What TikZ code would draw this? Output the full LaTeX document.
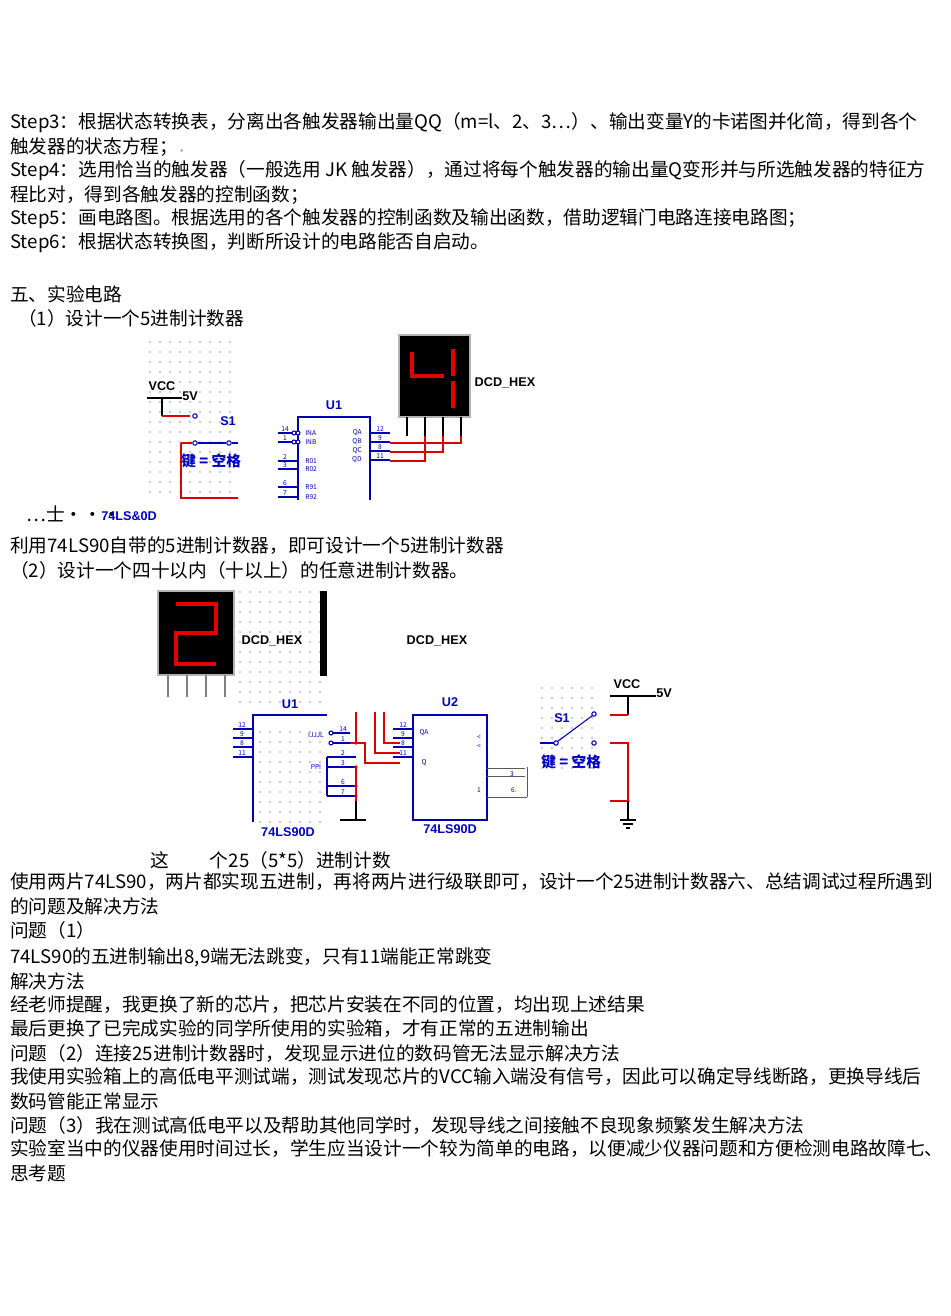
\documentclass[tikz,border=0pt]{standalone}
\usepackage{fontspec}
\setmainfont{Noto Sans CJK SC}
\newfontfamily\cjk{Noto Sans CJK SC}
\newfontfamily\arialf{Liberation Sans}
\newcommand{\mydotgrid}[4]{\foreach \gx in {#1}{\foreach \gy in {#2}{\fill[gray!80] (\gx,\gy) circle (0.8);}}}
\begin{document}
\begin{tikzpicture}[x=0.75pt,y=-0.75pt,
  txt/.style={anchor=west,inner sep=0pt,font=\fontsize{14}{16}\selectfont},
  lbl/.style={inner sep=0pt,font=\arialf\bfseries\fontsize{9.5}{11}\selectfont},
  blbl/.style={lbl,text=blue!75!black},
  pin/.style={inner sep=0pt,text=blue!70!black,font=\fontsize{5}{6}\selectfont},
  bw/.style={blue!70!black,line width=0.8pt},
  rw/.style={red!85!black,line width=0.8pt},
  kw/.style={black,line width=0.8pt},
  seg/.style={red!90!black,line width=2.4pt}]
\useasboundingbox (0,0) rectangle (950,1316);
\fill[white] (0,0) rectangle (950,1316);
% ---- text
\node[txt] (t1) at (10,123) {Step3：根据状态转换表，分离出各触发器输出量QQ（m=l、2、3…）、输出变量Y的卡诺图并化简，得到各个};
\node[txt] (t2) at (10,147) {触发器的状态方程；\textcolor{gray}{\tiny ▪}};
\node[txt] (t3) at (10,171) {Step4：选用恰当的触发器（一般选用 JK 触发器），通过将每个触发器的输出量Q变形并与所选触发器的特征方};
\node[txt] (t4) at (10,195) {程比对，得到各触发器的控制函数；};
\node[txt] (t5) at (10,219) {Step5：画电路图。根据选用的各个触发器的控制函数及输出函数，借助逻辑门电路连接电路图；};
\node[txt] (t6) at (10,243) {Step6：根据状态转换图，判断所设计的电路能否自启动。};
\node[txt] (t7) at (10,294) {五、实验电路};
\node[txt] (t8) at (18,318) {（1）设计一个5进制计数器};
\node[txt] (t9) at (26,514) {…士•••};
\node[blbl,anchor=west] (t9b) at (101,516) {74LS\&0D};
\node[txt] (t10) at (10,546) {利用74LS90自带的5进制计数器，即可设计一个5进制计数器};
\node[txt] (t11) at (10,570) {（2）设计一个四十以内（十以上）的任意进制计数器。};
\node[txt] (t12) at (150,860) {这\hspace{2.2em}个25（5*5）进制计数};
\node[txt] (t13) at (10,882) {使用两片74LS90，两片都实现五进制，再将两片进行级联即可，设计一个25进制计数器六、总结调试过程所遇到};
\node[txt] (t14) at (10,906) {的问题及解决方法};
\node[txt] (t15) at (10,930) {问题（1）};
\node[txt] (t16) at (10,957) {74LS90的五进制输出8,9端无法跳变，只有11端能正常跳变};
\node[txt] (t17) at (10,981) {解决方法};
\node[txt] (t18) at (10,1005) {经老师提醒，我更换了新的芯片，把芯片安装在不同的位置，均出现上述结果};
\node[txt] (t19) at (10,1029) {最后更换了已完成实验的同学所使用的实验箱，才有正常的五进制输出};
\node[txt] (t20) at (10,1053) {问题（2）连接25进制计数器时，发现显示进位的数码管无法显示解决方法};
\node[txt] (t21) at (10,1077) {我使用实验箱上的高低电平测试端，测试发现芯片的VCC输入端没有信号，因此可以确定导线断路，更换导线后};
\node[txt] (t22) at (10,1101) {数码管能正常显示};
\node[txt] (t23) at (10,1125) {问题（3）我在测试高低电平以及帮助其他同学时，发现导线之间接触不良现象频繁发生解决方法};
\node[txt] (t24) at (10,1149) {实验室当中的仪器使用时间过长，学生应当设计一个较为简单的电路，以便减少仪器问题和方便检测电路故障七、};
\node[txt] (t25) at (10,1173) {思考题};
% ================= circuit 1
\mydotgrid{150,160,...,230}{342,352,...,492}
\mydotgrid{280,290,...,540}{342,352,...,492}
\node[lbl] (vcc1) at (162,386) {VCC};
\node[lbl] (v51) at (190,396) {5V};
\draw[kw] (147,398) -- (182,398);
\draw[kw] (162,398) -- (162,416);
\draw[rw] (162,416) -- (190,416);
\draw[bw,fill=white] (195,416) circle (2.2);
\node[blbl] (s1a) at (228,421) {S1};
\draw[rw] (181,443) -- (181,498) -- (238,498);
\draw[rw] (181,443) -- (192,443);
\draw[bw] (198,443) -- (226,443);
\draw[bw,fill=white] (195,443) circle (2.2);
\draw[bw,fill=white] (229,443) circle (2.2);
\draw[bw] (232,443) -- (238,443);
\node[blbl,anchor=west,font=\cjk\bfseries\fontsize{11}{12}\selectfont] (key1) at (181,461) {键 = 空格};
\node[blbl] (u1a) at (334,405) {U1};
\draw[bw] (298,500) -- (298,417) -- (370,417) -- (370,500);
\foreach \y/\n/\p in {433/14/INA,442/1/INB}{\draw[bw] (278,\y) -- (292,\y); \draw[bw,fill=white] (294,\y) circle (2) (298,\y) circle (2);
  \node[pin] at (285,\y-4) {\n}; \node[pin,anchor=west] at (305,\y) {\p};}
\foreach \y/\n/\p in {461/2/R01,469/3/R02,487/6/R91,497/7/R92}{\draw[bw] (278,\y) -- (298,\y);
  \node[pin] at (285,\y-4) {\n}; \node[pin,anchor=west] at (305,\y) {\p};}
\foreach \y/\n/\p in {433/12/QA,442/9/QB,451/8/QC,460/11/QD}{\draw[bw] (370,\y) -- (390,\y);
  \node[pin] at (380,\y-4) {\n}; \node[pin,anchor=east] at (362,\y) {\p};}
\draw[fill=black,draw=gray!60,line width=1pt] (399,335) rectangle (470,417);
\draw[seg] (412,352) -- (412,376) -- (444,376);
\draw[seg] (453,349) -- (453,376) (453,381) -- (453,408);
\node[lbl] (dcd1) at (505,383) {DCD\_HEX};
\foreach \x in {407,425,443,461}{\draw[kw] (\x,417) -- (\x,436);}
\draw[rw] (390,443) -- (461,443) -- (461,436);
\draw[rw] (390,452) -- (443,452) -- (443,436);
\draw[rw] (390,461) -- (425,461) -- (425,436);
% ================= circuit 2
\mydotgrid{240,250,...,320}{592,602,...,702}
\mydotgrid{330,340,...,400}{722,732,...,832}
\mydotgrid{260,270,...,320}{732,742,...,822}
\mydotgrid{405,415,...,480}{592,602,...,832}
\mydotgrid{542,552,...,600}{688,698,...,768}
\mydotgrid{615,625,...,672}{592,602,...,832}
\draw[fill=black,draw=gray!60,line width=1pt] (158,591) rectangle (234,675);
\draw[seg] (176,604) -- (216,604) -- (216,633) -- (176,633) -- (176,664) -- (216,664);
\node[lbl] (dcd2) at (272,641) {DCD\_HEX};
\fill[black] (320,591) rectangle (327,676);
\node[lbl] (dcd3) at (437,641) {DCD\_HEX};
\fill[white] (396,630) rectangle (404,652);
\foreach \x in {168,187,206,225}{\draw[gray,line width=0.8pt] (\x,675) -- (\x,697);}
\node[blbl] (u1b) at (290,704) {U1};
\draw[bw] (253,822) -- (253,715) -- (327,715);
\foreach \y/\n in {729/12,738/9,747/8,757/11}{\draw[bw] (233,\y) -- (253,\y); \node[pin] at (242,\y-4) {\n};}
\node[blbl] (u1c) at (288,832) {74LS90D};
\fill[white] (250,836) rectangle (330,845);
\draw[bw] (333,743) -- (350,743); \draw[bw,fill=white] (331,743) circle (2);
\draw[bw] (333,733) -- (350,733); \draw[bw,fill=white] (331,733) circle (2);
\node[pin] at (343,729) {14}; \node[pin] at (343,739) {1};
\node[pin] at (316,735) {IJJJL};
\node[pin] at (316,767) {PPI};
\foreach \y/\n in {757/2,767/3,786/6,796/7}{\draw[bw] (327,\y) -- (356,\y); \node[pin] at (343,\y-4) {\n};}
\draw[bw] (327,757) -- (327,796);
\draw[rw] (356,712) -- (356,743) -- (350,743);
\draw[rw] (356,743) -- (365,743) -- (365,763) -- (400,763);
\draw[rw] (375,712) -- (375,753) -- (400,753);
\draw[rw] (384,712) -- (384,743) -- (400,743);
\draw[rw] (356,767) -- (356,801);
\draw[kw] (356,801) -- (356,820) (340,820) -- (366,820);
\foreach \y in {743,767,786,796}{\fill[red!85!black] (356,\y) circle (1.8);}
\node[blbl] (u2a) at (450,702) {U2};
\draw[bw] (413,715) rectangle (487,820);
\foreach \y/\n in {729/12,738/9,747/8,757/11}{\draw[bw] (393,\y) -- (413,\y); \node[pin] at (403,\y-4) {\n};}
\node[pin] at (424,733) {QA};
\node[pin] at (424,763) {Q};
\node[pin] at (479,738) {<}; \node[pin] at (479,747) {<};
\node[pin] at (479,790) {1};
\node[blbl] (u2b) at (450,829) {74LS90D};
\draw[gray!70!black] (487,768) -- (525,768) (487,776) -- (525,776) (487,797) -- (527,797) (527,767) -- (527,797);
\node[pin] at (512,774) {3};
\node[pin] at (514,790) {6.};
\node[blbl] (s1b) at (562,718) {S1};
\draw[bw] (540,743) -- (554,743);
\draw[bw,fill=white] (556,743) circle (2.2);
\draw[bw] (557.5,741.5) -- (592.5,715.5);
\draw[bw,fill=white] (594,714) circle (2.2);
\draw[bw,fill=white] (594,743) circle (2.2);
\node[blbl,anchor=west,font=\cjk\bfseries\fontsize{11}{12}\selectfont] (key2) at (541,762) {键 = 空格};
\node[lbl] (vcc2) at (627,684) {VCC};
\node[lbl] (v52) at (664,693) {5V};
\draw[kw] (610,696) -- (656,696);
\draw[kw] (628,696) -- (628,715);
\draw[rw] (628,715) -- (610,715);
\draw[rw] (610,743) -- (628,743) -- (628,801) -- (610,801);
\fill[red!85!black] (628,801) circle (1.8);
\draw[kw] (628,801) -- (628,820);
\draw[kw] (620,820) -- (636,820) (623,824) -- (633,824) (626,828) -- (630,828);
\end{tikzpicture}
\end{document}
